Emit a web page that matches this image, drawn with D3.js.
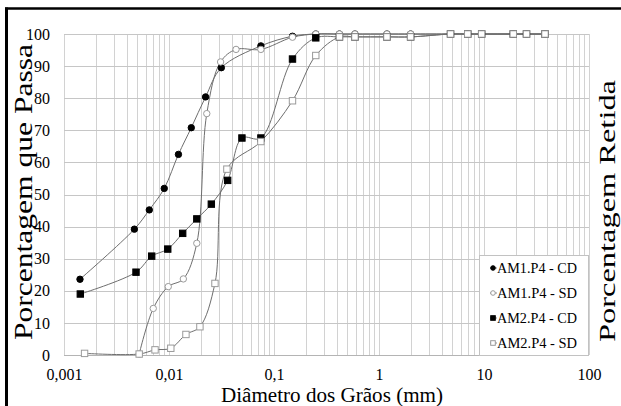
<!DOCTYPE html>
<html>
<head>
<meta charset="utf-8">
<script src="https://d3js.org/d3.v7.min.js"></script>
<style>
  body { margin: 0; background: #ffffff; }
  svg { display: block; }
  svg text { font-family: "Liberation Serif", "Times New Roman", Times, serif; }
</style>
</head>
<body>
<div id="chart"></div>
<script>

// Data - grain diameter (mm) and percent passing per sample:
var am1_cd_d = [0.00142, 0.00468, 0.00649, 0.00901, 0.0123, 0.0163, 0.0223, 0.0315, 0.075, 0.15, 0.25, 0.42, 0.59, 1.19, 2.0, 4.8, 7.0, 9.5, 19, 25.4, 38.1];
var am1_cd_p = [23.6, 39.2, 45.2, 51.9, 62.5, 70.8, 80.4, 89.5, 96.3, 99.3, 100, 100, 100, 100, 100, 100, 100, 100, 100, 100, 100];

var am1_sd_d = [0.0052, 0.00708, 0.00984, 0.0137, 0.0184, 0.0229, 0.031, 0.0435, 0.075, 0.15, 0.25, 0.42, 0.59, 1.19, 2.0, 4.8, 7.0, 9.5, 19, 25.4, 38.1];
var am1_sd_p = [0.3, 14.5, 21.3, 23.7, 34.8, 75.2, 91.3, 95.2, 95.2, 99.0, 100, 100, 100, 100, 100, 100, 100, 100, 100, 100, 100];

var am2_cd_d = [0.00143, 0.00485, 0.00684, 0.00973, 0.0135, 0.0184, 0.0253, 0.0362, 0.0495, 0.075, 0.15, 0.25, 0.42, 0.59, 1.19, 2.0, 4.8, 7.0, 9.5, 19, 25.4, 38.1];
var am2_cd_p = [19.0, 25.8, 30.8, 33.0, 37.9, 42.4, 47.0, 54.4, 67.6, 67.6, 92.2, 98.8, 99.1, 99.1, 99.1, 99.1, 100, 100, 100, 100, 100, 100];

var am2_sd_d = [0.00157, 0.0052, 0.00736, 0.0104, 0.0145, 0.0197, 0.0274, 0.0356, 0.075, 0.15, 0.25, 0.42, 0.59, 1.19, 2.0, 4.8, 7.0, 9.5, 19, 25.4, 38.1];
var am2_sd_p = [0.5, 0.3, 1.6, 2.1, 6.4, 8.8, 22.3, 57.9, 66.5, 79.2, 93.3, 99.1, 99.1, 99.1, 99.1, 100, 100, 100, 100, 100, 100];

// Legend names and tick labels:
var series_names = ["AM1.P4 - CD", "AM1.P4 - SD", "AM2.P4 - CD", "AM2.P4 - SD"];
var x_tick_values = [0.001, 0.01, 0.1, 1, 10, 100];
var x_tick_labels = ["0,001", "0,01", "0,1", "1", "10", "100"];
var y_tick_values = [0, 10, 20, 30, 40, 50, 60, 70, 80, 90, 100];

// Titles:
var x_title = "Diâmetro dos Grãos (mm)";
var y_title = "Porcentagem que Passa";
var y2_title = "Porcentagem Retida";


window.onload = function() {
  drawchart();
};


function drawchart() {

  // svg size:
  var w_svg = 621;
  var h_svg = 406;

  // plot area:
  var left = 64, right = 589, top = 34, bottom = 355;

  var font = '"Liberation Serif", "Times New Roman", Times, serif';

  var svg = d3.select("#chart")
    .append("svg")
      .attr("width", w_svg)
      .attr("height", h_svg)
      .attr("font-family", font);

  // scales:
  var xScale = d3.scaleLog().domain([0.001, 100]).range([left, right]);
  var yScale = d3.scaleLinear().domain([0, 100]).range([bottom, top]);

  // frame (left and top lines of the picture):
  svg.append("line")
    .attr("x1", 6.5).attr("x2", 6.5).attr("y1", 7.5).attr("y2", h_svg)
    .attr("stroke", "#000").attr("stroke-width", 3);
  svg.append("line")
    .attr("x1", 5).attr("x2", w_svg).attr("y1", 8.5).attr("y2", 8.5)
    .attr("stroke", "#000").attr("stroke-width", 2.5);

  // vertical grid (log minor + major):
  svg.append("g")
    .selectAll("line")
    .data(xScale.ticks())
    .enter()
    .append("line")
      .attr("x1", function(d) { return Math.round(xScale(d)) + 0.5; })
      .attr("x2", function(d) { return Math.round(xScale(d)) + 0.5; })
      .attr("y1", top)
      .attr("y2", bottom)
      .attr("stroke", "#d2d2d2")
      .attr("stroke-width", 1);

  // horizontal grid:
  svg.append("g")
    .selectAll("line")
    .data(y_tick_values)
    .enter()
    .append("line")
      .attr("x1", left)
      .attr("x2", right)
      .attr("y1", function(d) { return Math.round(yScale(d)) + 0.5; })
      .attr("y2", function(d) { return Math.round(yScale(d)) + 0.5; })
      .attr("stroke", function(d) { return d === 0 ? "#b4b4b4" : "#c6c6c6"; })
      .attr("stroke-width", 1);

  // x-axis labels:
  var x_axis = d3.axisBottom(xScale)
    .tickValues(x_tick_values)
    .tickFormat(function(d, i) { return x_tick_labels[i]; })
    .tickSize(0)
    .tickPadding(14);
  var gx = svg.append("g").attr("transform", "translate(0," + bottom + ")").call(x_axis);
  gx.attr("font-family", font);
  gx.select(".domain").remove();
  gx.selectAll("text")
    .style("font-size", "16px")
    .attr("fill", "#000");

  // y-axis labels:
  var y_axis = d3.axisLeft(yScale)
    .tickValues(y_tick_values)
    .tickSize(0)
    .tickPadding(14);
  var gy = svg.append("g").attr("transform", "translate(" + left + ",0)").call(y_axis);
  gy.attr("font-family", font);
  gy.select(".domain").remove();
  gy.selectAll("text")
    .style("font-size", "16px")
    .attr("fill", "#000");

  // axis titles:
  svg.append("text")
    .attr("x", 332)
    .attr("y", 402)
    .attr("text-anchor", "middle")
    .attr("textLength", 222)
    .attr("lengthAdjust", "spacingAndGlyphs")
    .style("font-size", "20px")
    .text(x_title);

  svg.append("text")
    .attr("transform", "translate(32,192) rotate(-90)")
    .attr("text-anchor", "middle")
    .attr("textLength", 296)
    .attr("lengthAdjust", "spacingAndGlyphs")
    .style("font-size", "25px")
    .text(y_title);

  svg.append("text")
    .attr("transform", "translate(615,211) rotate(-90)")
    .attr("text-anchor", "middle")
    .attr("textLength", 262)
    .attr("lengthAdjust", "spacingAndGlyphs")
    .style("font-size", "23px")
    .text(y2_title);

  // series table:
  var series = [
    {name: series_names[0], d: am1_cd_d, p: am1_cd_p, shape: "circle", filled: true},
    {name: series_names[1], d: am1_sd_d, p: am1_sd_p, shape: "circle", filled: false},
    {name: series_names[2], d: am2_cd_d, p: am2_cd_p, shape: "square", filled: true},
    {name: series_names[3], d: am2_sd_d, p: am2_sd_p, shape: "square", filled: false}
  ];

  // smooth line like the spreadsheet's scatter:
  var line = d3.line()
    .x(function(d) { return xScale(d[0]); })
    .y(function(d) { return yScale(d[1]); })
    .curve(d3.curveCatmullRom.alpha(0.5));

  // lines first:
  series.forEach(function(s) {
    var pts = s.d.map(function(v, i) { return [v, s.p[i]]; });
    svg.append("path")
      .datum(pts)
      .attr("d", line)
      .attr("fill", "none")
      .attr("stroke", "#6e6e6e")
      .attr("stroke-width", 1);
  });

  // then markers:
  series.forEach(function(s) {
    var pts = s.d.map(function(v, i) { return [v, s.p[i]]; });
    drawmarkers(svg.append("g"), pts, s, xScale, yScale, 3.2, 6.4);
  });

  // legend:
  var lg = svg.append("g");
  lg.append("rect")
    .attr("x", 479.5).attr("y", 255.5)
    .attr("width", 109).attr("height", 100)
    .attr("fill", "#fff")
    .attr("stroke", "#c2c2c2");

  series.forEach(function(s, i) {
    var cy = 268 + i * 25;
    lg.append("line")
      .attr("x1", 490).attr("x2", 497).attr("y1", cy).attr("y2", cy)
      .attr("stroke", "#8a8a8a").attr("stroke-width", 1);
    var g = lg.append("g");
    drawmarkers(g, [[0, 0]], s, function() { return 493; }, function() { return cy; }, 2.3, 4.6);
    lg.append("text")
      .attr("x", 497)
      .attr("y", cy)
      .attr("dy", "0.35em")
      .attr("textLength", 80)
      .attr("lengthAdjust", "spacingAndGlyphs")
      .style("font-size", "15px")
      .text(s.name);
  });
}


function drawmarkers(g, pts, s, xs, ys, r, side) {
  var fill = s.filled ? "#000" : "#fff";
  var stroke = s.filled ? "#000" : "#9a9a9a";
  if (s.shape === "circle") {
    g.selectAll("circle")
      .data(pts)
      .enter()
      .append("circle")
        .attr("cx", function(d) { return xs(d[0]); })
        .attr("cy", function(d) { return ys(d[1]); })
        .attr("r", r)
        .attr("fill", fill)
        .attr("stroke", stroke)
        .attr("stroke-width", 1);
  } else {
    g.selectAll("rect")
      .data(pts)
      .enter()
      .append("rect")
        .attr("x", function(d) { return xs(d[0]) - side / 2; })
        .attr("y", function(d) { return ys(d[1]) - side / 2; })
        .attr("width", side)
        .attr("height", side)
        .attr("fill", fill)
        .attr("stroke", stroke)
        .attr("stroke-width", 1);
  }
}

</script>
</body>
</html>
